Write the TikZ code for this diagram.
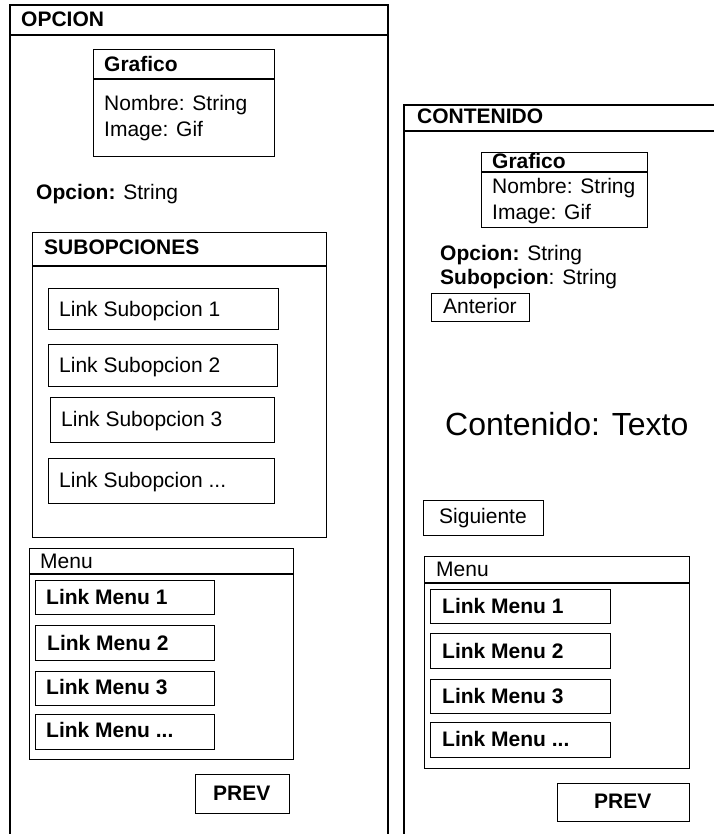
\documentclass[tikz,border=0pt]{standalone}
\usepackage{fontspec}
\setmainfont{Liberation Sans}
\begin{document}
\begin{tikzpicture}[x=1pt,y=-1pt,
  frame/.style={draw=black,line width=1.4pt},
  box/.style={draw=black,line width=1.4pt,rectangle,inner sep=0pt,anchor=north west},
  lbl/.style={inner sep=0pt,anchor=base west,font=\fontsize{21}{25}\selectfont},
  blbl/.style={lbl,font=\fontsize{21}{25}\selectfont\bfseries},
  big/.style={inner sep=0pt,anchor=base west,font=\fontsize{32}{38}\selectfont}]
\useasboundingbox (0,0) rectangle (714,834);

% ---------- OPCION screen ----------
\draw[frame] (10,834) -- (10,5) -- (388,5) -- (388,834);
\draw[frame] (10,35) -- (388,35);
\node[blbl] (opTitle) at (21,27) {OPCION};

% Grafico class box
\node[box,minimum width=181pt,minimum height=107pt] (gA) at (93,49) {};
\draw[frame] (93,79) -- (274,79);
\node[blbl] (gAt) at (104,72) {Grafico};
\node[lbl] (gAn) at (104,111) {Nombre: String};
\node[lbl] (gAi) at (104,137) {Image: Gif};

\node[lbl] (opA) at (36,200) {\textbf{Opcion:} String};

% Subopciones panel
\node[box,minimum width=294pt,minimum height=305pt] (sub) at (32,232) {};
\draw[frame] (32,266) -- (326,266);
\node[blbl] (subT) at (44,254) {SUBOPCIONES};
\node[box,minimum width=230pt,minimum height=41pt] (s1) at (48,288) {};
\node[lbl] (s1t) at (59,316) {Link Subopcion 1};
\node[box,minimum width=229pt,minimum height=42pt] (s2) at (48,344) {};
\node[lbl] (s2t) at (59,372) {Link Subopcion 2};
\node[box,minimum width=224pt,minimum height=45pt] (s3) at (50,397) {};
\node[lbl] (s3t) at (61,426) {Link Subopcion 3};
\node[box,minimum width=226pt,minimum height=45pt] (s4) at (48,458) {};
\node[lbl] (s4t) at (59,487) {Link Subopcion ...};

% Menu panel
\node[box,minimum width=264pt,minimum height=211pt] (mA) at (29,548) {};
\draw[frame] (29,574) -- (293,574);
\node[lbl] (mAt) at (40,568) {Menu};
\node[box,minimum width=179pt,minimum height=34pt] (mA1) at (35,580) {};
\node[blbl] (mA1t) at (46,604) {Link Menu 1};
\node[box,minimum width=179pt,minimum height=35pt] (mA2) at (35,625) {};
\node[blbl] (mA2t) at (47,650) {Link Menu 2};
\node[box,minimum width=179pt,minimum height=34pt] (mA3) at (35,671) {};
\node[blbl] (mA3t) at (46,694) {Link Menu 3};
\node[box,minimum width=179pt,minimum height=35pt] (mA4) at (35,714) {};
\node[blbl] (mA4t) at (46,737) {Link Menu ...};

\node[box,minimum width=94pt,minimum height=39pt] (prevA) at (195,774) {};
\node[blbl] (prevAt) at (213,800) {PREV};

% ---------- CONTENIDO screen ----------
\draw[frame] (404,834) -- (404,105) -- (714,105);
\draw[frame] (404,131) -- (714,131);
\node[blbl] (ctTitle) at (417,124) {CONTENIDO};

\node[box,minimum width=166pt,minimum height=75pt] (gB) at (481,152) {};
\draw[frame] (481,172) -- (647,172);
\node[blbl] (gBt) at (492,169) {Grafico};
\node[lbl] (gBn) at (492,194) {Nombre: String};
\node[lbl] (gBi) at (492,219) {Image: Gif};

\node[lbl] (opB) at (440,260) {\textbf{Opcion:} String};
\node[lbl] (subB) at (440,284) {\textbf{Subopcion}: String};

\node[box,minimum width=98pt,minimum height=28pt] (ant) at (431,293) {};
\node[lbl] (antt) at (443,313) {Anterior};

\node[big] (cont) at (445,435) {Contenido: Texto};

\node[box,minimum width=120pt,minimum height=35pt] (sig) at (423,500) {};
\node[lbl] (sigt) at (439,523) {Siguiente};

\node[box,minimum width=265pt,minimum height=212pt] (mB) at (424,556) {};
\draw[frame] (424,583) -- (689,583);
\node[lbl] (mBt) at (436,576) {Menu};
\node[box,minimum width=180pt,minimum height=34pt] (mB1) at (430,589) {};
\node[blbl] (mB1t) at (442,613) {Link Menu 1};
\node[box,minimum width=180pt,minimum height=35pt] (mB2) at (430,633) {};
\node[blbl] (mB2t) at (442,658) {Link Menu 2};
\node[box,minimum width=180pt,minimum height=34pt] (mB3) at (430,679) {};
\node[blbl] (mB3t) at (442,703) {Link Menu 3};
\node[box,minimum width=180pt,minimum height=35pt] (mB4) at (430,722) {};
\node[blbl] (mB4t) at (442,746) {Link Menu ...};

\node[box,minimum width=132pt,minimum height=38pt] (prevB) at (557,783) {};
\node[blbl] (prevBt) at (594,808) {PREV};
\end{tikzpicture}
\end{document}
